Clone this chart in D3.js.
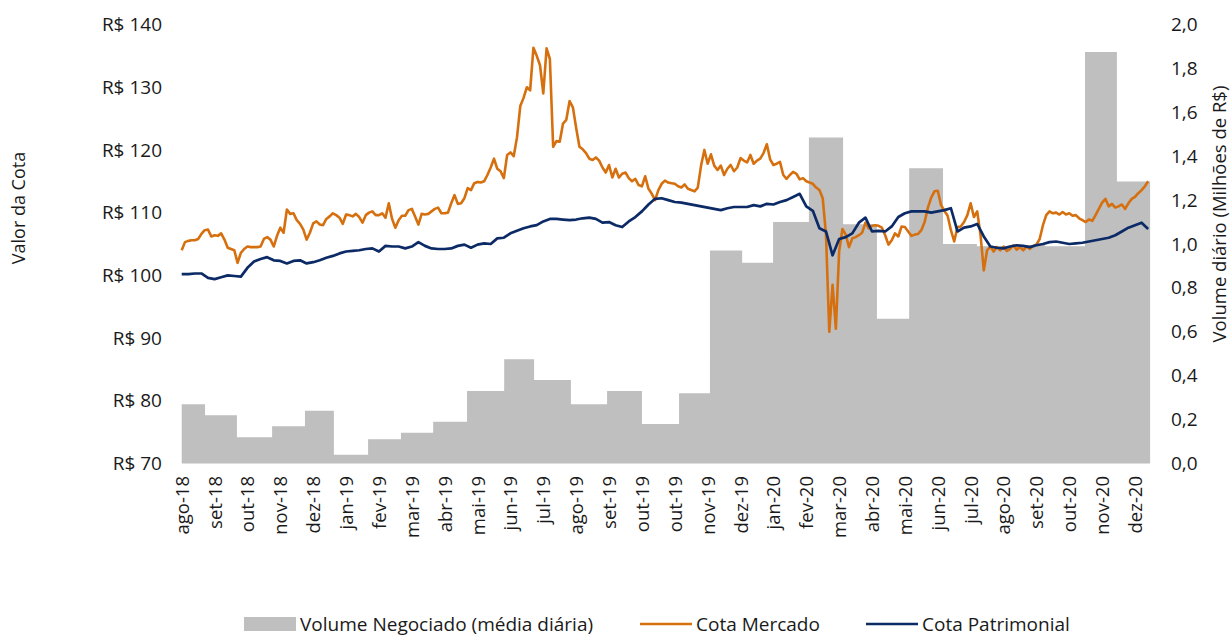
<!DOCTYPE html>
<html><head><meta charset="utf-8">
<script src="https://cdn.jsdelivr.net/npm/d3@7"></script>
<style>
body{margin:0;background:#fff}
svg{display:block}
text{font-family:'Open Sans',sans-serif;fill:#1a1a1a}
</style>
</head><body>
<svg id="chart" width="1231" height="637"></svg>
<script>
// ---------- DATA ----------
const tickLabels = ["ago-18","set-18","out-18","nov-18","dez-18","jan-19","fev-19","mar-19","abr-19","mai-19","jun-19","jul-19","ago-19","set-19","out-19","out-19","nov-19","dez-19","jan-20","fev-20","mar-20","abr-20","mai-20","jun-20","jul-20","ago-20","set-20","out-20","nov-20","dez-20"];

const leftTicks = [70,80,90,100,110,120,130,140];
const rightTicks = [0,0.2,0.4,0.6,0.8,1.0,1.2,1.4,1.6,1.8,2.0];

// Volume negociado (média diária, milhões R$) por mês
const volumeMonths = ["ago-18","set-18","out-18","nov-18","dez-18","jan-19","fev-19","mar-19","abr-19","mai-19","jun-19","jul-19","ago-19","set-19","out-19","nov-19","dez-19","jan-20","fev-20","mar-20","abr-20","mai-20","jun-20","jul-20","ago-20","set-20","out-20","nov-20","dez-20"];
const volume = [0.27,0.22,0.12,0.17,0.24,0.04,0.11,0.14,0.19,0.33,0.475,0.38,0.27,0.33,0.18,0.32,0.97,0.915,1.10,1.485,1.09,0.66,1.345,1.00,0.99,0.995,0.99,1.875,1.285];
// month boundaries on the time axis (in axis-label units)
const volumeEdges = [0,0.71,1.68,2.75,3.75,4.63,5.67,6.67,7.65,8.68,9.81,10.72,11.84,12.94,14.00,15.13,16.07,17.05,17.99,19.08,20.12,21.15,22.13,23.16,24.19,25.20,26.26,27.48,28.45,29.46];

// Cota Mercado (R$), sampled every 0.1 axis-label unit
const mercadoStep = 0.1;
const cotaMercado = [
104.0,105.3,105.5,105.6,105.6,105.8,106.6,107.2,107.3,106.2,
106.4,106.3,106.7,105.7,104.4,104.2,104.0,102.0,103.6,104.2,
104.6,104.5,104.5,104.5,104.6,105.8,106.1,105.7,104.6,106.3,
107.6,106.8,110.5,109.8,109.9,108.8,108.2,107.3,105.7,106.8,
108.3,108.6,108.1,108.0,109.0,109.4,109.9,109.6,109.2,108.2,
109.7,109.6,109.4,109.8,109.3,108.4,109.6,110.0,110.2,109.6,
109.6,109.9,109.2,111.5,109.0,107.6,108.8,109.5,109.5,110.4,
110.6,109.4,108.1,109.8,109.7,109.8,110.2,110.6,110.8,109.9,
109.9,110.0,111.5,112.8,111.4,111.5,112.3,113.9,113.6,114.7,
114.9,114.8,115.0,116.0,117.2,118.6,117.0,116.6,115.5,119.2,
119.6,119.0,122.0,127.0,128.3,130.0,129.5,136.3,135.0,133.5,
129.0,136.2,134.5,120.5,121.4,121.3,124.2,124.8,127.8,126.8,
123.5,120.5,120.1,119.5,118.6,118.4,118.8,118.3,117.2,116.4,
117.6,115.6,117.0,115.6,116.2,116.4,115.5,115.0,115.4,114.4,
114.2,115.8,113.8,113.0,112.0,113.6,114.6,115.1,114.8,114.7,
114.6,114.2,114.0,114.5,113.8,113.6,113.4,114.0,117.5,120.0,
117.8,119.3,117.5,116.8,117.5,116.0,117.0,117.6,116.6,117.2,
118.7,118.3,118.0,119.2,117.8,118.3,118.6,119.5,120.9,118.5,
117.6,117.8,118.1,116.0,115.4,116.0,116.5,116.2,115.3,115.5,
115.0,114.8,114.6,114.0,113.6,112.3,106.5,91.0,98.5,91.5,
103.8,107.4,106.5,104.5,105.9,106.1,106.4,106.8,108.4,107.5,
107.9,108.0,107.9,107.6,106.4,104.9,105.6,106.7,106.2,107.8,
107.7,107.0,106.3,106.5,106.6,107.2,108.5,110.8,112.4,113.4,
113.5,111.2,110.3,109.5,107.2,105.4,107.7,107.8,108.5,109.6,
111.5,109.3,110.2,106.5,100.8,104.0,104.6,103.8,104.5,104.0,
104.6,103.9,104.2,104.8,104.1,104.5,104.0,104.6,104.2,104.7,
104.9,105.8,108.0,109.6,110.2,109.9,110.0,109.7,110.1,109.7,
109.9,109.5,109.6,109.1,108.8,108.5,108.9,108.7,109.6,110.6,
111.6,112.2,111.0,111.4,110.8,111.0,111.3,110.6,111.5,112.2,
112.5,113.1,113.6,114.2,115.0
];

// Cota Patrimonial (R$), sampled every 0.2 axis-label unit
const patrimonialStep = 0.2;
const cotaPatrimonial = [
100.2,100.2,100.3,100.3,99.6,99.4,99.7,100.0,99.9,99.8,
101.2,102.2,102.6,102.9,102.4,102.3,101.9,102.3,102.4,101.9,
102.1,102.4,102.8,103.1,103.5,103.8,103.9,104.0,104.2,104.3,
103.8,104.7,104.6,104.6,104.3,104.6,105.3,104.7,104.3,104.2,
104.2,104.3,104.7,104.9,104.4,104.9,105.1,105.0,105.9,106.0,
106.7,107.1,107.5,107.8,108.0,108.6,109.0,109.0,108.9,108.8,
108.9,109.1,109.2,109.0,108.4,108.5,108.0,107.7,108.6,109.3,
110.2,111.3,112.2,112.3,112.0,111.7,111.6,111.4,111.2,111.0,
110.8,110.6,110.4,110.7,110.9,110.9,110.9,111.2,111.0,111.4,
111.3,111.7,112.0,112.5,113.0,111.0,110.3,107.5,107.0,103.2,
105.8,106.1,106.7,108.4,109.2,107.0,107.1,107.0,107.8,109.3,
109.9,110.2,110.2,110.2,110.0,110.2,110.4,110.7,107.0,107.6,
107.8,108.2,106.2,104.6,104.4,104.3,104.6,104.8,104.7,104.5,
104.8,105.0,105.3,105.4,105.2,105.0,105.1,105.2,105.4,105.6,
105.8,106.0,106.4,107.0,107.6,108.0,108.4,107.4
];

const legendItems = ["Volume Negociado (média diária)","Cota Mercado","Cota Patrimonial"];

// ---------- CHART ----------
const COLORS = {vol:"#bfbfbf", mercado:"#d6700f", patrimonial:"#0b2a66"};
const svg = d3.select("#chart");
const plot = {left:181.7, right:1135, top:24.5, bottom:463.5};

const x = d3.scaleLinear().domain([0, 29]).range([plot.left, plot.right]);
const yL = d3.scaleLinear().domain([70, 140]).range([plot.bottom, plot.top]);
const yR = d3.scaleLinear().domain([0, 2]).range([plot.bottom, plot.top]);

// volume step area
const volPts = volume.map((v,i)=>[volumeEdges[i], v]);
volPts.push([volumeEdges[volumeEdges.length-1], volume[volume.length-1]]);
svg.append("path")
  .datum(volPts)
  .attr("fill", COLORS.vol)
  .attr("d", d3.area().curve(d3.curveStepAfter)
     .x(d=>x(d[0])).y0(yR(0)).y1(d=>yR(d[1])));

// lines
const lineM = d3.line().x((d,i)=>x(i*mercadoStep)).y(d=>yL(d));
const lineP = d3.line().x((d,i)=>x(i*patrimonialStep)).y(d=>yL(d));
svg.append("path").datum(cotaMercado)
  .attr("fill","none").attr("stroke",COLORS.mercado).attr("stroke-width",2.6)
  .attr("stroke-linejoin","round").attr("d", lineM);
svg.append("path").datum(cotaPatrimonial)
  .attr("fill","none").attr("stroke",COLORS.patrimonial).attr("stroke-width",2.7)
  .attr("stroke-linejoin","round").attr("d", lineP);

// left axis
const gL = svg.append("g").attr("transform","translate(162,0)")
  .call(d3.axisLeft(yL).tickValues(leftTicks).tickFormat(d=>"R$ "+d).tickSize(0).tickPadding(0));
gL.select(".domain").remove();
gL.selectAll("text").style("font-size","19px").style("font-family","'Open Sans',sans-serif").attr("fill","#1a1a1a");

// right axis
const gR = svg.append("g").attr("transform","translate(1171,0)")
  .call(d3.axisRight(yR).tickValues(rightTicks).tickFormat(d=>d.toFixed(1).replace(".",",")).tickSize(0).tickPadding(0));
gR.select(".domain").remove();
gR.selectAll("text").style("font-size","19px").style("font-family","'Open Sans',sans-serif").attr("fill","#1a1a1a");

// bottom axis
const gB = svg.append("g").attr("transform",`translate(0,${plot.bottom})`)
  .call(d3.axisBottom(x).tickValues(d3.range(tickLabels.length)).tickFormat(i=>tickLabels[i]).tickSize(0));
gB.select(".domain").remove();
gB.selectAll("text")
  .attr("transform","rotate(-90)")
  .attr("x",-12.5).attr("y",0).attr("dy","0.35em")
  .style("text-anchor","end")
  .style("font-size","18.5px").style("font-family","'Open Sans',sans-serif").attr("fill","#1a1a1a");

// axis titles
svg.append("text").attr("transform","translate(18,208) rotate(-90)")
  .attr("text-anchor","middle").attr("dominant-baseline","central")
  .style("font-size","18px").text("Valor da Cota");
svg.append("text").attr("transform","translate(1218,214) rotate(-90)")
  .attr("text-anchor","middle").attr("dominant-baseline","central")
  .style("font-size","18.5px").text("Volume diário (Milhões de R$)");

// legend
const lg = svg.append("g");
const LY = 624;
lg.append("rect").attr("x",244).attr("y",LY-7).attr("width",52).attr("height",14).attr("fill",COLORS.vol);
lg.append("text").attr("x",300).attr("y",LY).attr("dominant-baseline","central").style("font-size","19px").text(legendItems[0]);
lg.append("line").attr("x1",640).attr("x2",692).attr("y1",LY).attr("y2",LY).attr("stroke",COLORS.mercado).attr("stroke-width",2.5);
lg.append("text").attr("x",696).attr("y",LY).attr("dominant-baseline","central").style("font-size","19px").text(legendItems[1]);
lg.append("line").attr("x1",866).attr("x2",918).attr("y1",LY).attr("y2",LY).attr("stroke",COLORS.patrimonial).attr("stroke-width",2.5);
lg.append("text").attr("x",922).attr("y",LY).attr("dominant-baseline","central").style("font-size","19px").text(legendItems[2]);
</script>
</body></html>
